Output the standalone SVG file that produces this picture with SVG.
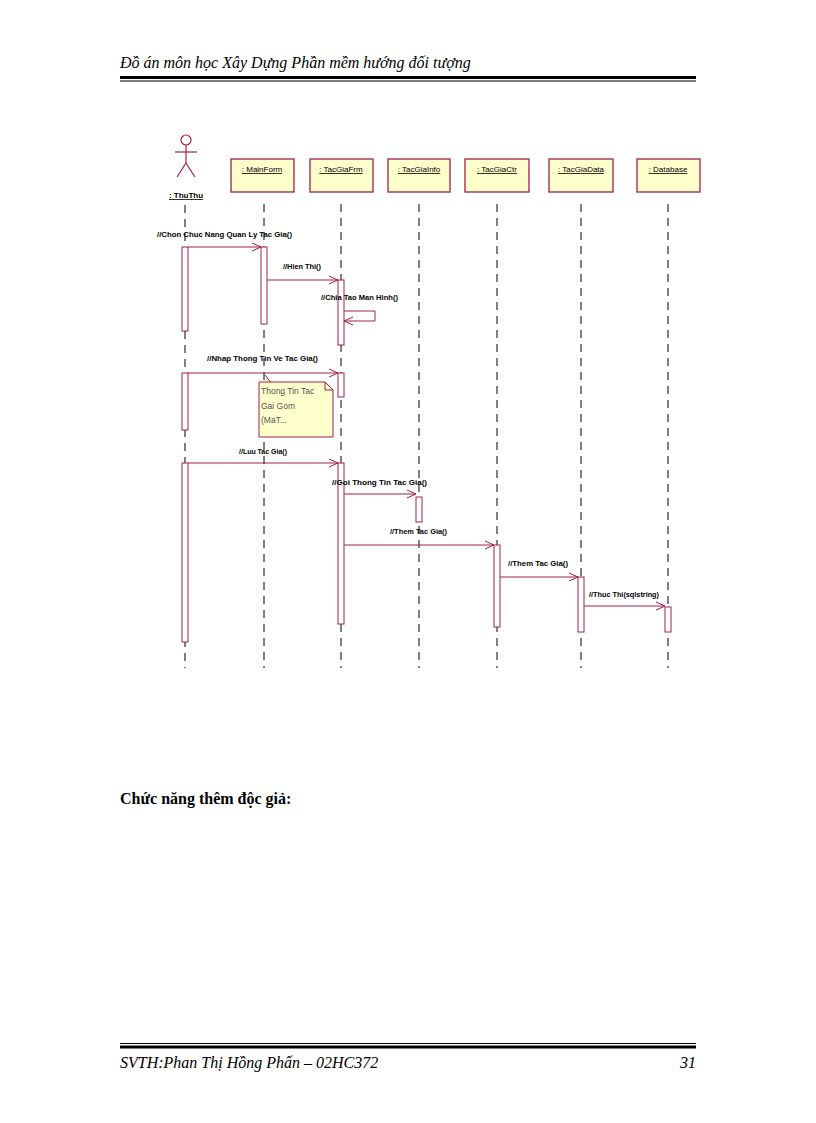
<svg xmlns="http://www.w3.org/2000/svg" width="816" height="1123" viewBox="0 0 816 1123">
<style>
.hd{font-family:"Liberation Serif",serif;font-style:italic;font-size:16px;fill:#000}
.obj{fill:#ffffcc;stroke:#a0204a;stroke-width:1.3}
.on{font-family:"Liberation Sans",sans-serif;font-size:8px;fill:#000;text-decoration:underline}
.ll{stroke:#000;stroke-width:1;stroke-dasharray:8,6}
.act{fill:#fff;stroke:#a0204a;stroke-width:1}
.msg{stroke:#a0204a;stroke-width:1;fill:none}
.ml{font-family:"Liberation Sans",sans-serif;font-size:8px;font-weight:bold;fill:#000}
</style>
<defs><marker id="ah" markerWidth="10" markerHeight="10" refX="9" refY="5" orient="auto" markerUnits="userSpaceOnUse"><path d="M0,1 L9,5 L0,9" fill="none" stroke="#a0204a" stroke-width="1"/></marker></defs>
<text class="hd" x="120" y="68">Đồ án môn học Xây Dựng Phần mềm hướng đối tượng</text>
<rect x="120" y="76" width="576" height="3" fill="#000"/><rect x="120" y="80.5" width="576" height="1" fill="#000"/>
<g id="lifelines">
<line class="ll" x1="185" y1="205" x2="185" y2="668"/><line class="ll" x1="264" y1="204" x2="264" y2="668"/>
<line class="ll" x1="341" y1="204" x2="341" y2="668"/><line class="ll" x1="419" y1="204" x2="419" y2="668"/>
<line class="ll" x1="497" y1="204" x2="497" y2="668"/><line class="ll" x1="581" y1="204" x2="581" y2="668"/>
<line class="ll" x1="668" y1="204" x2="668" y2="668"/>
</g>
<g id="actor" stroke="#a0204a" fill="none" stroke-width="1.2">
<circle cx="186" cy="140" r="5"/><line x1="186" y1="145" x2="186" y2="163"/><line x1="175" y1="152" x2="197" y2="152"/>
<line x1="186" y1="163" x2="177" y2="177"/><line x1="186" y1="163" x2="195" y2="177"/>
<text x="186" y="198" class="ml" stroke="none" fill="#000" text-anchor="middle" text-decoration="underline">: ThuThu</text></g>
<g id="MainForm"><rect class="obj" x="231" y="159" width="63" height="33"/><text class="on" x="262" y="172" text-anchor="middle">: MainForm</text></g>
<g id="TacGiaFrm"><rect class="obj" x="310" y="159" width="63" height="33"/><text class="on" x="341" y="172" text-anchor="middle">: TacGiaFrm</text></g>
<g id="TacGiaInfo"><rect class="obj" x="388" y="159" width="62" height="33"/><text class="on" x="419" y="172" text-anchor="middle">: TacGiaInfo</text></g>
<g id="TacGiaCtr"><rect class="obj" x="465" y="159" width="64" height="33"/><text class="on" x="497" y="172" text-anchor="middle">: TacGiaCtr</text></g>
<g id="TacGiaData"><rect class="obj" x="549" y="159" width="64" height="33"/><text class="on" x="581" y="172" text-anchor="middle">: TacGiaData</text></g>
<g id="Database"><rect class="obj" x="637" y="159" width="63" height="33"/><text class="on" x="668" y="172" text-anchor="middle">: Database</text></g>
<g id="activations">
<rect class="act" x="182" y="247" width="6" height="84"/><rect class="act" x="261" y="247" width="6" height="77"/>
<rect class="act" x="338" y="280" width="6" height="65"/>
<rect class="act" x="182" y="373" width="6" height="57"/><rect class="act" x="338" y="373" width="6" height="24"/>
<rect class="act" x="182" y="463" width="6" height="179"/><rect class="act" x="338" y="463" width="6" height="161"/>
<rect class="act" x="416" y="497" width="6" height="25"/><rect class="act" x="494" y="545" width="6" height="82"/>
<rect class="act" x="578" y="577" width="6" height="55"/><rect class="act" x="665" y="607" width="6" height="25"/>
</g>
<g id="connectors">
<line class="msg" x1="188" y1="247" x2="261" y2="247" marker-end="url(#ah)"/>
<line class="msg" x1="267" y1="280" x2="338" y2="280" marker-end="url(#ah)"/>
<path class="msg" d="M344,311 H375 V321 H344" marker-end="url(#ah)"/>
<line class="msg" x1="188" y1="373" x2="338" y2="373" marker-end="url(#ah)"/>
<line class="msg" x1="188" y1="463" x2="338" y2="463" marker-end="url(#ah)"/>
<line class="msg" x1="344" y1="494" x2="416" y2="494" marker-end="url(#ah)"/>
<line class="msg" x1="344" y1="545" x2="494" y2="545" marker-end="url(#ah)"/>
<line class="msg" x1="500" y1="577" x2="578" y2="577" marker-end="url(#ah)"/>
<line class="msg" x1="584" y1="606" x2="665" y2="606" marker-end="url(#ah)"/>
<line class="msg" x1="265" y1="375" x2="272" y2="384"/>
</g>
<g id="labels">
<text class="ml" x="157" y="237" textLength="135" lengthAdjust="spacingAndGlyphs">//Chon Chuc Nang Quan Ly Tac Gia()</text>
<text class="ml" x="283" y="269" textLength="38" lengthAdjust="spacingAndGlyphs">//Hien Thi()</text>
<text class="ml" x="321" y="300" textLength="77" lengthAdjust="spacingAndGlyphs">//Chia Tao Man Hinh()</text>
<text class="ml" x="207" y="361" textLength="111" lengthAdjust="spacingAndGlyphs">//Nhap Thong Tin Ve Tac Gia()</text>
<text class="ml" x="239" y="454" textLength="48" lengthAdjust="spacingAndGlyphs">//Luu Tac Gia()</text>
<text class="ml" x="332" y="485" textLength="95" lengthAdjust="spacingAndGlyphs">//Goi Thong Tin Tac Gia()</text>
<text class="ml" x="390" y="534" textLength="57" lengthAdjust="spacingAndGlyphs">//Them Tac Gia()</text>
<text class="ml" x="508" y="566" textLength="60" lengthAdjust="spacingAndGlyphs">//Them Tac Gia()</text>
<text class="ml" x="589" y="597" textLength="70" lengthAdjust="spacingAndGlyphs">//Thuc Thi(sqlstring)</text>
</g>
<g id="note">
<path d="M259,382 H325 L333,390 V437 H259 Z" fill="#ffffcc" stroke="#a0204a" stroke-width="1"/>
<path d="M325,382 V390 H333" fill="none" stroke="#a0204a" stroke-width="1"/>
<text font-family="Liberation Sans,sans-serif" font-size="8.5" fill="#555"><tspan x="261" y="394">Thong Tin Tac</tspan><tspan x="261" y="409">Gai Gom</tspan><tspan x="261" y="423">(MaT...</tspan></text>
</g>
<text x="120" y="804" font-family="Liberation Serif,serif" font-weight="bold" font-size="16">Chức năng thêm độc giả:</text>
<rect x="120" y="1043" width="576" height="1" fill="#000"/><rect x="120" y="1045.5" width="576" height="3" fill="#000"/>
<text class="hd" x="120" y="1068">SVTH:Phan Thị Hồng Phấn – 02HC372</text>
<text class="hd" x="696" y="1068" text-anchor="end" font-style="normal">31</text>
</svg>
